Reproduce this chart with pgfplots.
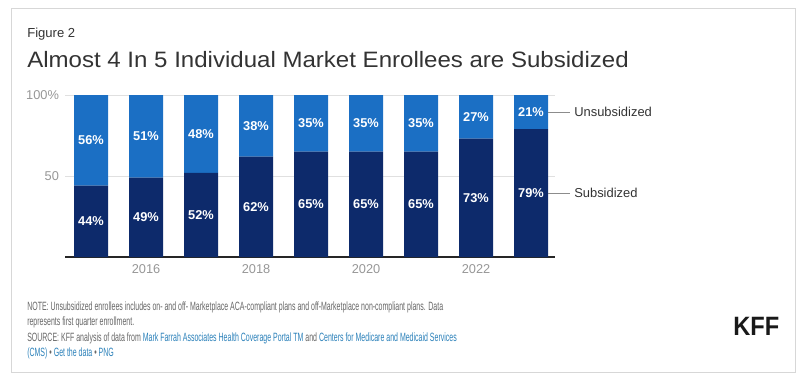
\documentclass[border=0pt]{standalone}
\usepackage{fontspec}
\setmainfont{Liberation Sans}
\usepackage{pgfplots}
\pgfplotsset{compat=1.18}
\usepackage{graphicx}
\definecolor{kdark}{RGB}{13,42,107}
\definecolor{klight}{RGB}{27,111,196}
\definecolor{tgray}{RGB}{150,150,150}
\definecolor{ngray}{RGB}{102,102,102}
\definecolor{linkc}{RGB}{42,128,185}
\definecolor{ttl}{RGB}{51,51,51}
\definecolor{frame}{RGB}{215,215,215}
\newlength\lA
\begin{document}
\settowidth\lA{\fontsize{9}{10}\selectfont NOTE: Unsubsidized enrollees includes on- and off- Marketplace ACA-compliant plans and off-Marketplace non-compliant plans. Data}%
\pgfmathsetmacro\ns{312/\lA}%
\begin{tikzpicture}
\useasboundingbox (0,0) rectangle (600pt,-287.25pt);
\begin{axis}[
  at={(48.75pt,-192.75pt)}, anchor=south west,
  width=367.5pt, height=121.5pt, scale only axis,
  xmin=2014.527, xmax=2023.436, ymin=0, ymax=100,
  ybar stacked, bar width=25.5pt,
  axis x line*=bottom, axis y line*=left,
  x axis line style={-, draw=black!85, line width=0.8pt},
  y axis line style={draw=none},
  ytick={50,100}, yticklabels={50,100\%},
  ymajorgrids, major grid style={draw=black!12, line width=0.75pt},
  major tick length=0pt,
  xtick={2016,2018,2020,2022}, xticklabels={2016,2018,2020,2022},
  tick label style={font=\fontsize{9.6}{11}\selectfont, text=tgray},
  xticklabel style={yshift=-2.5pt},
  yticklabel style={xshift=-1pt},
  /pgf/number format/assume math mode=true,
  visualization depends on={rawy \as \rawy},
  nodes near coords={\pgfmathprintnumber[fixed,precision=0]{\rawy}\%},
  every node near coord/.append style={anchor=center,
     font=\bfseries\fontsize{9.6}{11}\selectfont, text=white},
]
\addplot[fill=kdark, draw=none] coordinates {(2015,44) (2016,49) (2017,52) (2018,62) (2019,65) (2020,65) (2021,65) (2022,73) (2023,79)};
\addplot[fill=klight, draw=none] coordinates {(2015,56) (2016,51) (2017,48) (2018,38) (2019,35) (2020,35) (2021,35) (2022,27) (2023,21)};
\end{axis}
\begin{scope}[x=0.75pt,y=-0.75pt]
\draw[frame, line width=0.75pt] (11,8) rectangle (795,372);
\node[anchor=base west, inner sep=0, text=ttl] at (27,37) {\fontsize{9.8}{11}\selectfont Figure 2};
\node[anchor=base west, inner sep=0, text=ttl] at (27,67) {\scalebox{1.08}[1]{\fontsize{16.7}{18}\selectfont Almost 4 In 5 Individual Market Enrollees are Subsidized}};
\draw[black!45, line width=0.6pt] (548,112) -- (570,112);
\draw[black!45, line width=0.6pt] (548,193) -- (570,193);
\node[anchor=west, inner sep=0, text=ttl] at (574,112) {\fontsize{9.7}{11}\selectfont Unsubsidized};
\node[anchor=west, inner sep=0, text=ttl] at (574,193) {\fontsize{9.7}{11}\selectfont Subsidized};
\node[anchor=base west, inner sep=0, text=ngray] at (27,310) {\scalebox{\ns}[1]{\fontsize{9}{10}\selectfont NOTE: Unsubsidized enrollees includes on- and off- Marketplace ACA-compliant plans and off-Marketplace non-compliant plans. Data}};
\node[anchor=base west, inner sep=0, text=ngray] at (27,325.5) {\scalebox{\ns}[1]{\fontsize{9}{10}\selectfont represents first quarter enrollment.}};
\node[anchor=base west, inner sep=0, text=ngray] at (27,341) {\scalebox{\ns}[1]{\fontsize{9}{10}\selectfont SOURCE: KFF analysis of data from \textcolor{linkc}{Mark Farrah Associates Health Coverage Portal TM} and \textcolor{linkc}{Centers for Medicare and Medicaid Services}}};
\node[anchor=base west, inner sep=0, text=ngray] at (27,356.5) {\scalebox{\ns}[1]{\fontsize{9}{10}\selectfont \textcolor{linkc}{(CMS)} • \textcolor{linkc}{Get the data} • \textcolor{linkc}{PNG}}};
\node[anchor=base west, inner sep=0, text=black!90] at (733,335) {\scalebox{0.89}[1]{\bfseries\fontsize{19.9}{21}\selectfont KFF}};
\end{scope}
\end{tikzpicture}
\end{document}
